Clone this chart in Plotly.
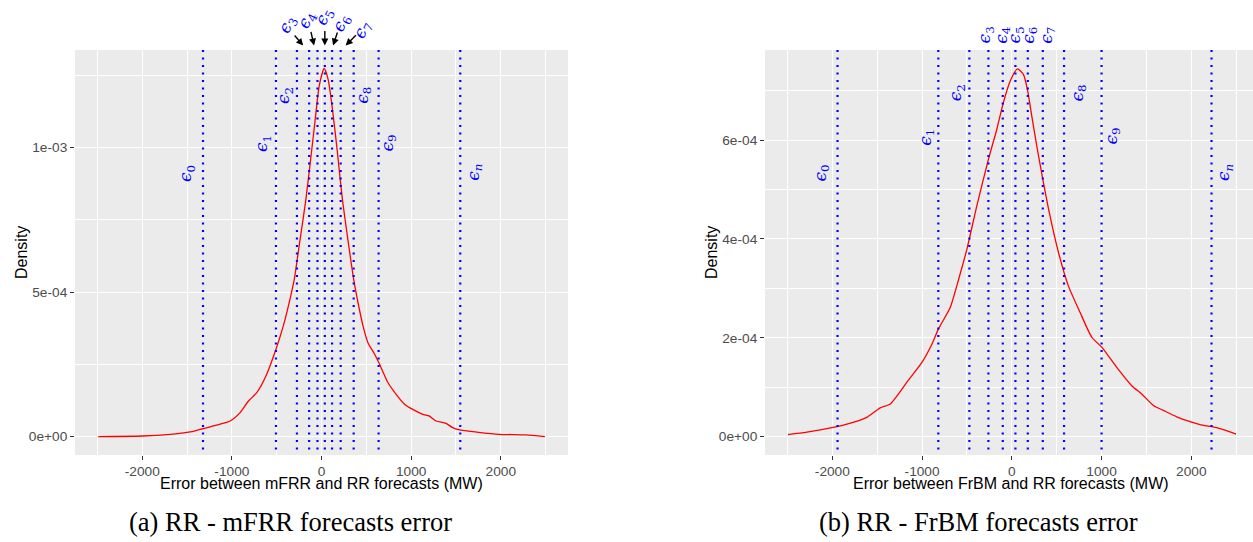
import plotly.graph_objects as go

# ---------------- data ----------------
mfrr_x = [-2490, -2000, -1686, -1444, -1315, -1130, -1019, -908, -815, -722, -611, -508,
          -426, -352, -304, -240, -174, -130, -74, -26, 30, 74, 122, 174, 233, 295, 359,
          407, 463, 518, 593, 648, 741, 833, 926, 1018, 1130, 1204, 1278, 1389, 1463,
          1556, 1722, 1981, 2278, 2492]
mfrr_y = [0.0, 2e-6, 8e-6, 1.7e-5, 2.8e-5, 4.3e-5, 5.4e-5, 8.3e-5, 1.23e-4, 1.52e-4,
          2.16e-4, 3.02e-4, 3.83e-4, 4.75e-4, 5.44e-4, 6.8e-4, 8.21e-4, 9.36e-4, 1.087e-3,
          1.213e-3, 1.274e-3, 1.236e-3, 1.133e-3, 9.94e-4, 8.21e-4, 6.8e-4, 5.44e-4,
          4.64e-4, 3.83e-4, 3.25e-4, 2.85e-4, 2.50e-4, 1.87e-4, 1.46e-4, 1.12e-4, 9.4e-5,
          7.7e-5, 7.1e-5, 5.4e-5, 4.6e-5, 3.1e-5, 2.2e-5, 1.6e-5, 8e-6, 6e-6, 0.0]

frbm_x = [-2494, -2283, -1949, -1837, -1615, -1467, -1355, -1169, -1002, -891, -817, -687,
          -587, -501, -390, -261, -167, -94, -19, 62, 129, 174, 223, 278, 352, 426, 519,
          630, 761, 891, 1002, 1169, 1336, 1448, 1577, 1688, 1837, 1986, 2097, 2227, 2356,
          2498]
frbm_y = [4e-6, 8.9e-6, 2.0e-5, 2.5e-5, 3.9e-5, 5.8e-5, 6.6e-5, 1.10e-4, 1.50e-4, 1.87e-4,
          2.18e-4, 2.61e-4, 3.22e-4, 3.79e-4, 4.67e-4, 5.61e-4, 6.22e-4, 6.76e-4, 7.19e-4,
          7.44e-4, 7.33e-4, 7.02e-4, 6.48e-4, 5.88e-4, 5.14e-4, 4.46e-4, 3.73e-4, 3.05e-4,
          2.51e-4, 2.01e-4, 1.81e-4, 1.40e-4, 1.03e-4, 8.6e-5, 6.3e-5, 5.3e-5, 4.0e-5,
          3.0e-5, 2.4e-5, 2.0e-5, 1.4e-5, 5e-6]

eps_mfrr = [-1322, -508, -274, -138, -45, 37, 118, 214, 359, 637, 1548]
eps_frbm = [-1942, -819, -473, -261, -101, 40, 178, 345, 582, 1000, 2225]
eps_labels = ["<i>ϵ</i><sub>0</sub>", "<i>ϵ</i><sub>1</sub>", "<i>ϵ</i><sub>2</sub>",
              "<i>ϵ</i><sub>3</sub>", "<i>ϵ</i><sub>4</sub>", "<i>ϵ</i><sub>5</sub>",
              "<i>ϵ</i><sub>6</sub>", "<i>ϵ</i><sub>7</sub>", "<i>ϵ</i><sub>8</sub>",
              "<i>ϵ</i><sub>9</sub>", "<i>ϵ</i><sub><i>n</i></sub>"]

x_ticks = [-2000, -1000, 0, 1000, 2000]
x_ticktext = ["-2000", "-1000", "0", "1000", "2000"]
y_ticks_a = [0, 5e-4, 1e-3]
y_ticktext_a = ["0e+00", "5e-04", "1e-03"]
y_ticks_b = [0, 2e-4, 4e-4, 6e-4]
y_ticktext_b = ["0e+00", "2e-04", "4e-04", "6e-04"]

xtitle_a = "Error between mFRR and RR forecasts (MW)"
xtitle_b = "Error between FrBM and RR forecasts (MW)"
ytitle = "Density"
caption_a = "(a) RR - mFRR forecasts error"
caption_b = "(b) RR - FrBM forecasts error"

# ---------------- layout helpers ----------------
W, H = 1253, 542
def px_x(p):
    return p / W
def px_y(p):
    return (H - p) / H

PLOT_TOP, PLOT_BOT = 50, 455
A_L, A_R = 75, 568
B_L, B_R = 765, 1253

fig = go.Figure()
fig.add_trace(go.Scatter(x=mfrr_x, y=mfrr_y, mode="lines",
                         line=dict(color="#FF0000", width=1.3, shape="spline", smoothing=0.6),
                         xaxis="x", yaxis="y", showlegend=False, hoverinfo="skip"))
fig.add_trace(go.Scatter(x=frbm_x, y=frbm_y, mode="lines",
                         line=dict(color="#FF0000", width=1.3, shape="spline", smoothing=0.6),
                         xaxis="x2", yaxis="y2", showlegend=False, hoverinfo="skip"))

grid = dict(showgrid=True, gridcolor="white", gridwidth=1.3, zeroline=False,
            ticks="outside", ticklen=4, tickcolor="#333333", tickwidth=1,
            tickfont=dict(family="Liberation Sans", size=13.7, color="#4D4D4D"),
            showline=False)

ydom = [px_y(PLOT_BOT), px_y(PLOT_TOP)]
fig.update_layout(
    width=W, height=H, autosize=False,
    margin=dict(l=0, r=0, t=0, b=0),
    paper_bgcolor="white", plot_bgcolor="#EBEBEB",
    font=dict(family="Liberation Sans"),
    xaxis=dict(domain=[px_x(A_L), px_x(A_R)], range=[-2750, 2750], anchor="y",
               tickvals=x_ticks, ticktext=x_ticktext,
               minor=dict(tick0=-2500, dtick=1000, showgrid=True, gridcolor="white",
                          gridwidth=0.6, ticks=""), **grid),
    yaxis=dict(domain=ydom, range=[-6.37e-5, 1.3377e-3], anchor="x",
               tickvals=y_ticks_a, ticktext=y_ticktext_a,
               minor=dict(tick0=2.5e-4, dtick=5e-4, showgrid=True, gridcolor="white",
                          gridwidth=0.6, ticks=""), **grid),
    xaxis2=dict(domain=[px_x(B_L), 1.0], range=[-2750, 2687], anchor="y2",
                tickvals=x_ticks, ticktext=x_ticktext,
                minor=dict(tick0=-2500, dtick=1000, showgrid=True, gridcolor="white",
                           gridwidth=0.6, ticks=""), **grid),
    yaxis2=dict(domain=ydom, range=[-3.73e-5, 7.823e-4], anchor="x2",
                tickvals=y_ticks_b, ticktext=y_ticktext_b,
                minor=dict(tick0=1e-4, dtick=2e-4, showgrid=True, gridcolor="white",
                           gridwidth=0.6, ticks=""), **grid),
)

# vertical dotted lines
for xa, eps in (("x", eps_mfrr), ("x2", eps_frbm)):
    ydomref = "y domain" if xa == "x" else "y2 domain"
    for v in eps:
        fig.add_shape(type="line", xref=xa, yref=ydomref, x0=v, x1=v, y0=1, y1=0,
                      line=dict(color="#0000FF", width=2.2, dash="2px,5.5px"))

annots = []
lab_font = dict(family="DejaVu Serif", size=17, color="#0000FF")

# side labels (indices 0,1,2,8,9,10)
side_a = {0: (-17, 174), 1: (-14, 143), 2: (-12, 95), 8: (10, 95), 9: (9, 143), 10: (13.5, 172)}
side_b = {0: (-17, 173), 1: (-12.6, 137), 2: (-13, 93), 8: (13.5, 93), 9: (10, 136), 10: (12.5, 173)}
for xa, eps, side in (("x", eps_mfrr, side_a), ("x2", eps_frbm, side_b)):
    for i, (dx, py) in side.items():
        annots.append(dict(x=eps[i], xref=xa, xshift=dx, y=px_y(py), yref="paper",
                           text=eps_labels[i], showarrow=False, textangle=-90,
                           xanchor="center", yanchor="middle", font=lab_font))

# left panel top labels with arrows (indices 3..7)
top_a_lab = {3: (-22, 25), 4: (-10.4, 20.7), 5: (0, 16.7), 6: (9.4, 23.3), 7: (21.7, 30)}
top_a_arrow = {3: (-6, -10, -11.7), 4: (-3.4, -3.6, -15.7), 5: (0, 0, -16.4),
               6: (1, 5, -15), 7: (5, 11.7, -11.7)}
for i, (dx, py) in top_a_lab.items():
    annots.append(dict(x=eps_mfrr[i], xref="x", xshift=dx, y=px_y(py), yref="paper",
                       text=eps_labels[i], showarrow=False, textangle=-65,
                       xanchor="center", yanchor="middle", font=lab_font))
for i, (dx, ax, ay) in top_a_arrow.items():
    annots.append(dict(x=eps_mfrr[i], xref="x", xshift=dx, y=px_y(45.5), yref="paper",
                       text=" ", font=dict(size=1), showarrow=True, ax=ax, ay=ay,
                       arrowhead=2, arrowsize=1, arrowwidth=1.4, arrowcolor="black"))

# right panel top labels (indices 3..7)
top_b_lab = {3: (-3, 35), 4: (-1, 35), 5: (0, 35), 6: (1, 35), 7: (4, 35)}
for i, (dx, py) in top_b_lab.items():
    annots.append(dict(x=eps_frbm[i], xref="x2", xshift=dx, y=px_y(py), yref="paper",
                       text=eps_labels[i], showarrow=False, textangle=-90,
                       xanchor="center", yanchor="middle", font=lab_font))

# axis titles
title_font = dict(family="Liberation Sans", size=16, color="black")
annots.append(dict(x=px_x((A_L + A_R) / 2), y=px_y(483.5), xref="paper", yref="paper",
                   text=xtitle_a, showarrow=False, font=title_font,
                   xanchor="center", yanchor="middle"))
annots.append(dict(x=px_x(1011.5), y=px_y(483.5), xref="paper", yref="paper",
                   text=xtitle_b, showarrow=False, font=title_font,
                   xanchor="center", yanchor="middle"))
annots.append(dict(x=px_x(21), y=px_y(253), xref="paper", yref="paper",
                   text=ytitle, showarrow=False, font=title_font, textangle=-90,
                   xanchor="center", yanchor="middle"))
annots.append(dict(x=px_x(711), y=px_y(253), xref="paper", yref="paper",
                   text=ytitle, showarrow=False, font=title_font, textangle=-90,
                   xanchor="center", yanchor="middle"))

# captions
cap_font = dict(family="Liberation Serif", size=26.5, color="black")
annots.append(dict(x=px_x(290), y=px_y(522), xref="paper", yref="paper",
                   text=caption_a, showarrow=False, font=cap_font,
                   xanchor="center", yanchor="middle"))
annots.append(dict(x=px_x(978), y=px_y(522), xref="paper", yref="paper",
                   text=caption_b, showarrow=False, font=cap_font,
                   xanchor="center", yanchor="middle"))

fig.update_layout(annotations=annots)

fig.write_html("out.html", config={"displayModeBar": False},
               post_script="document.body.style.margin='0';")
